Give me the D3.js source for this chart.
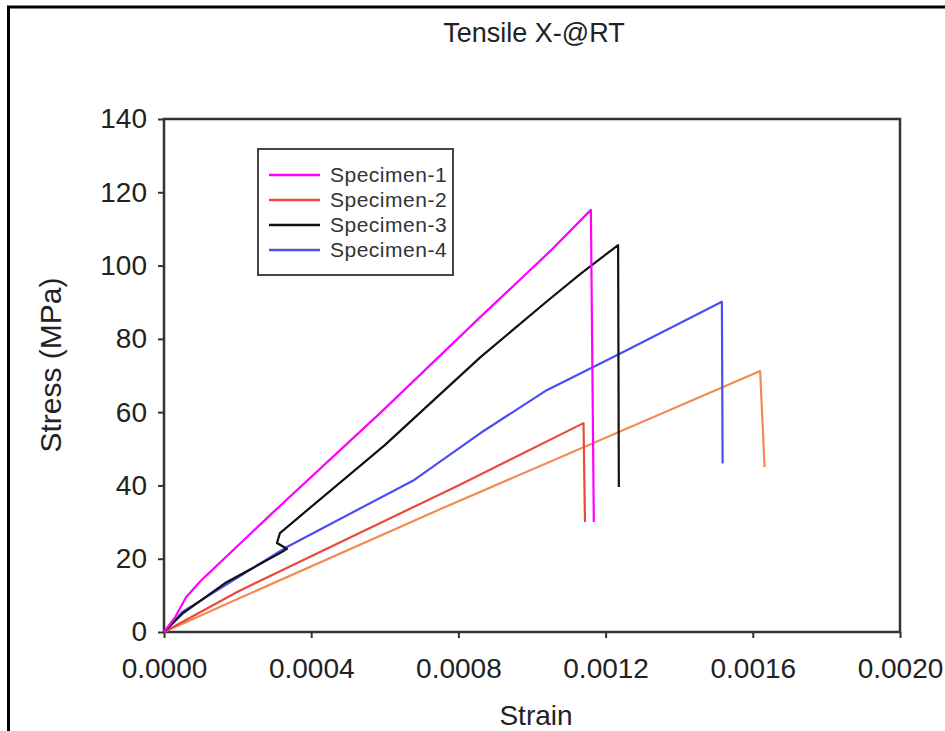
<!DOCTYPE html>
<html>
<head>
<meta charset="utf-8">
<script src="https://cdn.jsdelivr.net/npm/d3@7"></script>
<style>
body { margin: 0; background: white; }
</style>
</head>
<body>
<div id="canvas"></div>
<script>
var w = 945;
var h = 731;

var strainTicks = [0, 0.0004, 0.0008, 0.0012, 0.0016, 0.0020];
var stressTicks = [0, 20, 40, 60, 80, 100, 120, 140];

var legendNames = ["Specimen-1", "Specimen-2", "Specimen-3", "Specimen-4"];
var lineColors = ["#ff00ff", "#ea4a3c", "#111111", "#4d4df2", "#f28a52"];

// [strain, stress in MPa]
var specimen1 = [[0, 0], [0.00003, 4], [0.00006, 9.5], [0.0001, 14], [0.0003, 33], [0.00059, 60], [0.00086, 86], [0.00105, 104], [0.00116, 115.2], [0.001168, 30]];
var specimen2 = [[0, 0], [0.0002, 11], [0.0008, 40], [0.00114, 57], [0.001144, 30]];
var specimen3 = [[0, 0], [0.00005, 5], [0.00017, 13.6], [0.00032, 21.8], [0.000334, 22.7], [0.000307, 24.3], [0.000315, 27], [0.0006, 51], [0.00086, 75], [0.00104, 90.2], [0.00113, 97.6], [0.001234, 105.6], [0.001236, 39.6]];
var specimen4 = [[0, 0], [0.00005, 5.5], [0.000334, 23.2], [0.00068, 41.5], [0.00086, 54.3], [0.00104, 66], [0.00124, 76], [0.001516, 90.1], [0.001518, 46]];
// orange curve in the plot, it has no legend entry
var specimenExtra = [[0, 0], [0.0002, 9], [0.00075, 33.5], [0.00162, 71.2], [0.001632, 45]];

var allCurves = [specimen1, specimen2, specimen3, specimen4, specimenExtra];

var canvas = d3.select("#canvas")
    .append("svg")
    .attr("width", w)
    .attr("height", h)
    .style("background-color", "white");

var xScale = d3.scaleLinear()
    .domain([0, 0.002])
    .range([164, 900]);

var yScale = d3.scaleLinear()
    .domain([0, 140])
    .range([632, 119]);

var font = "'Liberation Sans', Arial, sans-serif";

// outer border of the picture (only top and left are visible)
canvas.append("rect")
    .attr("x", 8.5)
    .attr("y", 7)
    .attr("width", 1000)
    .attr("height", 1000)
    .attr("fill", "none")
    .attr("stroke", "black")
    .attr("stroke-width", 3);

var xAxis = canvas.append("g")
    .attr("transform", "translate(0," + yScale(0) + ")")
    .call(d3.axisBottom(xScale)
        .tickValues(strainTicks)
        .tickFormat(d3.format(".4f"))
        .tickSize(6)
        .tickSizeOuter(0)
        .tickPadding(20));

var yAxis = canvas.append("g")
    .attr("transform", "translate(" + xScale(0) + ",0)")
    .call(d3.axisLeft(yScale)
        .tickValues(stressTicks)
        .tickSize(6)
        .tickSizeOuter(0)
        .tickPadding(11));

xAxis.selectAll("text").attr("font-size", "28px").attr("font-family", font).attr("fill", "#222");
yAxis.selectAll("text").attr("font-size", "28px").attr("font-family", font).attr("fill", "#222");
canvas.selectAll(".tick line").attr("stroke", "#333").attr("stroke-width", 2);
canvas.selectAll(".domain").attr("stroke", "none");

// plot frame
canvas.append("rect")
    .attr("x", xScale(0))
    .attr("y", yScale(140))
    .attr("width", xScale(0.002) - xScale(0))
    .attr("height", yScale(0) - yScale(140))
    .attr("fill", "none")
    .attr("stroke", "#333")
    .attr("stroke-width", 2.5);

var line = d3.line()
    .x(function (d) { return xScale(d[0]); })
    .y(function (d) { return yScale(d[1]); });

// draw the extra orange one first so the others sit on top
var drawOrder = [4, 1, 3, 2, 0];
canvas.selectAll(".curve")
    .data(drawOrder)
    .join("path")
    .attr("class", "curve")
    .attr("d", function (i) { return line(allCurves[i]); })
    .attr("fill", "none")
    .attr("stroke", function (i) { return lineColors[i]; })
    .attr("stroke-width", 2.2)
    .attr("stroke-linejoin", "round");

// legend
var legendX = 258;
var legendY = 149;
canvas.append("rect")
    .attr("x", legendX)
    .attr("y", legendY)
    .attr("width", 195)
    .attr("height", 126)
    .attr("fill", "white")
    .attr("stroke", "#444")
    .attr("stroke-width", 2);

var legendRows = canvas.selectAll(".legendRow")
    .data(legendNames)
    .join("g")
    .attr("class", "legendRow")
    .attr("transform", function (d, i) {
        return "translate(" + legendX + "," + (legendY + 26 + i * 25) + ")";
    });

legendRows.append("line")
    .attr("x1", 11)
    .attr("x2", 62)
    .attr("y1", 0)
    .attr("y2", 0)
    .attr("stroke", function (d, i) { return lineColors[i]; })
    .attr("stroke-width", 2.5);

legendRows.append("text")
    .attr("x", 72)
    .attr("y", 0)
    .attr("dy", "0.35em")
    .text(function (d) { return d; })
    .attr("font-family", font)
    .attr("font-size", "21px")
    .attr("letter-spacing", "0.5px")
    .attr("fill", "#333");

function addText (x, y, text, font_size, rotate) {
    var t = canvas.append("text")
        .attr("x", x)
        .attr("y", y)
        .text(text)
        .attr("font-family", font)
        .attr("font-size", font_size)
        .attr("text-anchor", "middle")
        .attr("fill", "#222");
    if (rotate) {
        t.attr("transform", "rotate(-90," + x + "," + y + ")");
    }
}

addText(534, 42, "Tensile X-@RT", "27px", false);
addText(536, 725, "Strain", "28px", false);
addText(61, 365, "Stress (MPa)", "30px", true);
</script>
</body>
</html>
